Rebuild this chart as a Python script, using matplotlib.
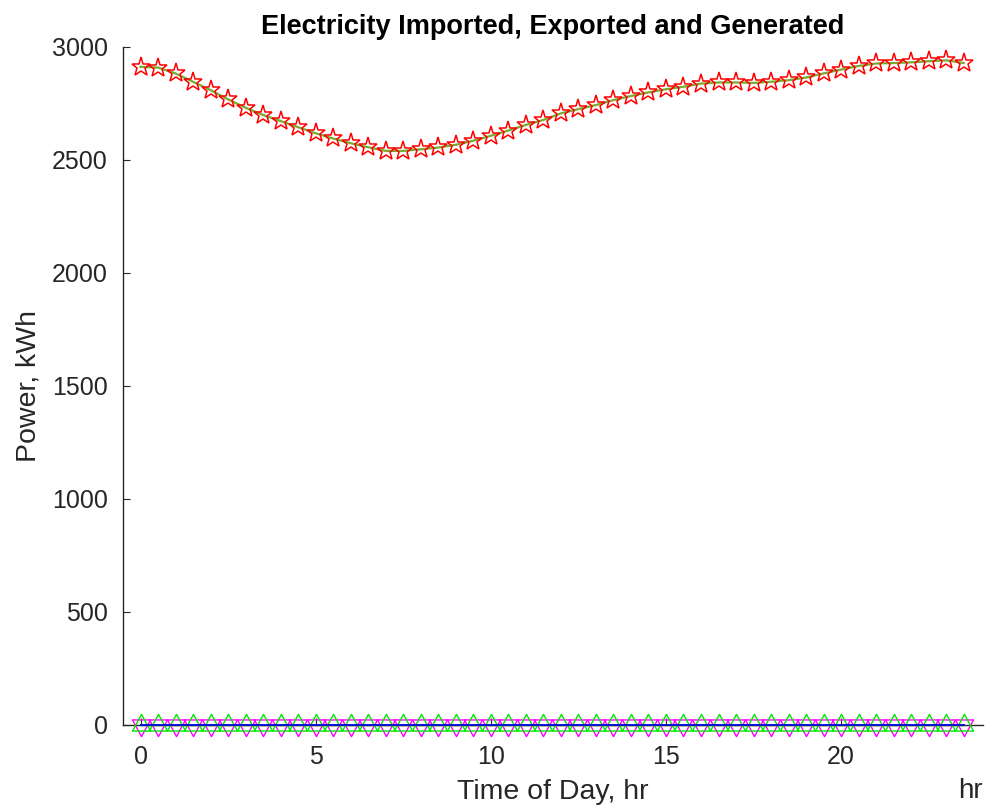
import matplotlib
matplotlib.use("Agg")
import matplotlib.pyplot as plt
from matplotlib.path import Path

plt.rcParams["font.family"] = ["Liberation Sans", "DejaVu Sans"]

# half-hourly time steps
hours = [0.0, 0.5, 1.0, 1.5, 2.0, 2.5, 3.0, 3.5, 4.0, 4.5, 5.0, 5.5,
         6.0, 6.5, 7.0, 7.5, 8.0, 8.5, 9.0, 9.5, 10.0, 10.5, 11.0, 11.5,
         12.0, 12.5, 13.0, 13.5, 14.0, 14.5, 15.0, 15.5, 16.0, 16.5, 17.0, 17.5,
         18.0, 18.5, 19.0, 19.5, 20.0, 20.5, 21.0, 21.5, 22.0, 22.5, 23.0, 23.5]

generated = [2912, 2909, 2883, 2846, 2809, 2768, 2731, 2699, 2672, 2645, 2618, 2595,
             2574, 2556, 2540, 2540, 2547, 2555, 2567, 2585, 2607, 2630, 2655, 2677,
             2706, 2725, 2743, 2765, 2783, 2799, 2813, 2824, 2838, 2843, 2843, 2841,
             2846, 2853, 2865, 2883, 2900, 2916, 2927, 2929, 2932, 2937, 2941, 2929]

imported = [0] * len(hours)
exported = [0] * len(hours)
net_line = [0] * len(hours)

xticks = [0, 5, 10, 15, 20]
yticks = [0, 500, 1000, 1500, 2000, 2500, 3000]

# triangles centred on their centroid, like MATLAB draws them
tri_up = Path([(0, 1), (-0.81, -0.5), (0.81, -0.5), (0, 1)],
              [Path.MOVETO, Path.LINETO, Path.LINETO, Path.CLOSEPOLY])
tri_down = Path([(0, -1), (-0.81, 0.5), (0.81, 0.5), (0, -1)],
                [Path.MOVETO, Path.LINETO, Path.LINETO, Path.CLOSEPOLY])

fig = plt.figure(figsize=(9.87, 8.06), dpi=100)
ax = fig.add_axes([123 / 987, 1 - 724.5 / 806, 860 / 987, 677.5 / 806])

ax.plot(hours, imported, color="#ff00ff", marker=tri_down, markersize=16,
        markerfacecolor="none", markeredgewidth=1.0, linewidth=1.0, clip_on=False, zorder=3)
ax.plot(hours, exported, color="#00e600", marker=tri_up, markersize=16,
        markerfacecolor="none", markeredgewidth=1.0, linewidth=1.0, clip_on=False, zorder=4)
ax.plot(hours, net_line, color="#0000e0", linewidth=1.3, clip_on=False, zorder=5)

ax.plot(hours, generated, color="#77AC30", linewidth=1.6, zorder=3)
ax.plot(hours, generated, linestyle="none", marker="*", markersize=14,
        markerfacecolor="none", markeredgecolor="#ff0000", markeredgewidth=1.1, zorder=4)

ax.set_xlim(-0.5, 24.05)
ax.set_ylim(0, 3000)
ax.set_xticks(xticks)
ax.set_yticks(yticks)

for side in ("top", "right"):
    ax.spines[side].set_visible(False)
for side in ("left", "bottom"):
    ax.spines[side].set_color("#262626")
    ax.spines[side].set_linewidth(1.0)

ax.tick_params(axis="both", direction="in", length=5, width=0.8, colors="#262626",
               labelsize=18, labelcolor="#262626")
ax.tick_params(axis="x", pad=15)
ax.tick_params(axis="y", pad=11)

ax.set_title("Electricity Imported, Exported and Generated", fontsize=19.5,
             fontweight="bold", color="black", pad=9)
ax.set_xlabel("Time of Day, hr", fontsize=20.5, color="#262626")
ax.xaxis.set_label_coords(0.5, -0.081)
ax.set_ylabel("Power, kWh", fontsize=20.5, color="#262626")
ax.yaxis.set_label_coords(-0.095, 0.5)

fig.text(983 / 987, 1 - 798 / 806, "hr", ha="right", va="baseline", fontsize=20, color="#262626")

fig.savefig("out.png", dpi=100)
